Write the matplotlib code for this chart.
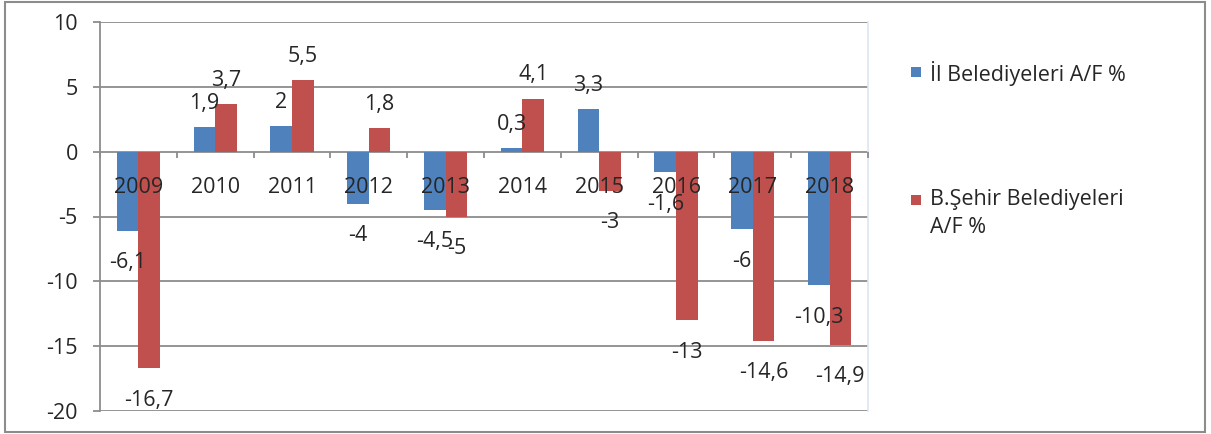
import matplotlib
matplotlib.use("Agg")
import matplotlib.pyplot as plt
from matplotlib.patches import Rectangle
from matplotlib.ticker import FixedLocator

years = ["2009", "2010", "2011", "2012", "2013", "2014", "2015", "2016", "2017", "2018"]
il_vals = [-6.1, 1.9, 2, -4, -4.5, 0.3, 3.3, -1.6, -6, -10.3]
bsehir_vals = [-16.7, 3.7, 5.5, 1.8, -5, 4.1, -3, -13, -14.6, -14.9]
series_names = ["İl Belediyeleri A/F %", "B.Şehir Belediyeleri\nA/F %"]
yticks = [-20, -15, -10, -5, 0, 5, 10]

plt.rcParams['font.family'] = ['Open Sans', 'DejaVu Sans']
FS = 15.5
TXT = '#262626'
BLUE = '#4F81BD'
RED = '#C0504D'
GRID = '#8C8C8C'

W, H = 1211, 434
fig = plt.figure(figsize=(W/100, H/100), dpi=100)
ax = fig.add_axes([100/W, 1-411/H, 768/W, 389/H])

x = list(range(len(years)))
w = 0.28
b1 = ax.bar([i - w/2 for i in x], il_vals, width=w, color=BLUE, zorder=3)
b2 = ax.bar([i + w/2 for i in x], bsehir_vals, width=w, color=RED, zorder=3)

def fmt(v):
    return ('%g' % v).replace('.', ',')

for bars, vals in ((b1, il_vals), (b2, bsehir_vals)):
    for rect, v in zip(bars, vals):
        cx = rect.get_x() + rect.get_width()/2
        off = 17 if v >= 0 else -23
        ax.annotate(fmt(v), (cx, v), xytext=(0, off), textcoords='offset points',
                    ha='center', va='center', fontsize=FS, color=TXT, zorder=7)

ax.set_xlim(-0.5, 9.5)
ax.set_ylim(-20, 10)
ax.set_yticks(yticks)
ax.set_yticklabels([str(t) for t in yticks])
for t in yticks:
    if t != 0:
        ax.axhline(t, color=GRID, linewidth=1.3, zorder=1)
ax.set_axisbelow(False)
ax.xaxis.set_zorder(6)
ax.yaxis.set_zorder(6)

ax.spines['top'].set_visible(False)
ax.spines['right'].set_color('#DCE6F2')
ax.spines['right'].set_linewidth(1.2)
ax.spines['left'].set_color(GRID)
ax.spines['left'].set_linewidth(1.3)
ax.spines['bottom'].set_position(('data', 0))
ax.spines['bottom'].set_color(GRID)
ax.spines['bottom'].set_linewidth(1.3)
ax.spines['bottom'].set_zorder(2)

ax.set_xticks(x)
ax.set_xticklabels(years)
ax.xaxis.set_minor_locator(FixedLocator([i + 0.5 for i in range(-1, 10)]))
ax.tick_params(axis='x', which='major', length=0, pad=18, labelsize=FS, labelcolor=TXT)
ax.tick_params(axis='x', which='minor', length=4, width=1.3, color=GRID, direction='out')
ax.tick_params(axis='y', length=5, width=1.3, color=GRID, pad=11, labelsize=FS, labelcolor=TXT)

# legend drawn manually (square aligned with first text line)
leg_items = [(BLUE, series_names[0], 72), (RED, series_names[1], 200)]
for col, name, yc in leg_items:
    fig.patches.append(Rectangle((911/W, 1-(yc+5)/H), 10/W, 10/H, transform=fig.transFigure,
                                 facecolor=col, edgecolor='none'))
    fig.text(930/W, 1-(yc-11)/H, name, ha='left', va='top', fontsize=FS, color=TXT,
             linespacing=1.45)

fig.patches.append(Rectangle((5/W, 2/H), 1200/W, 430/H, transform=fig.transFigure,
                             fill=False, edgecolor='#8C8C8C', linewidth=1.5))

fig.savefig('out.png', dpi=100)
